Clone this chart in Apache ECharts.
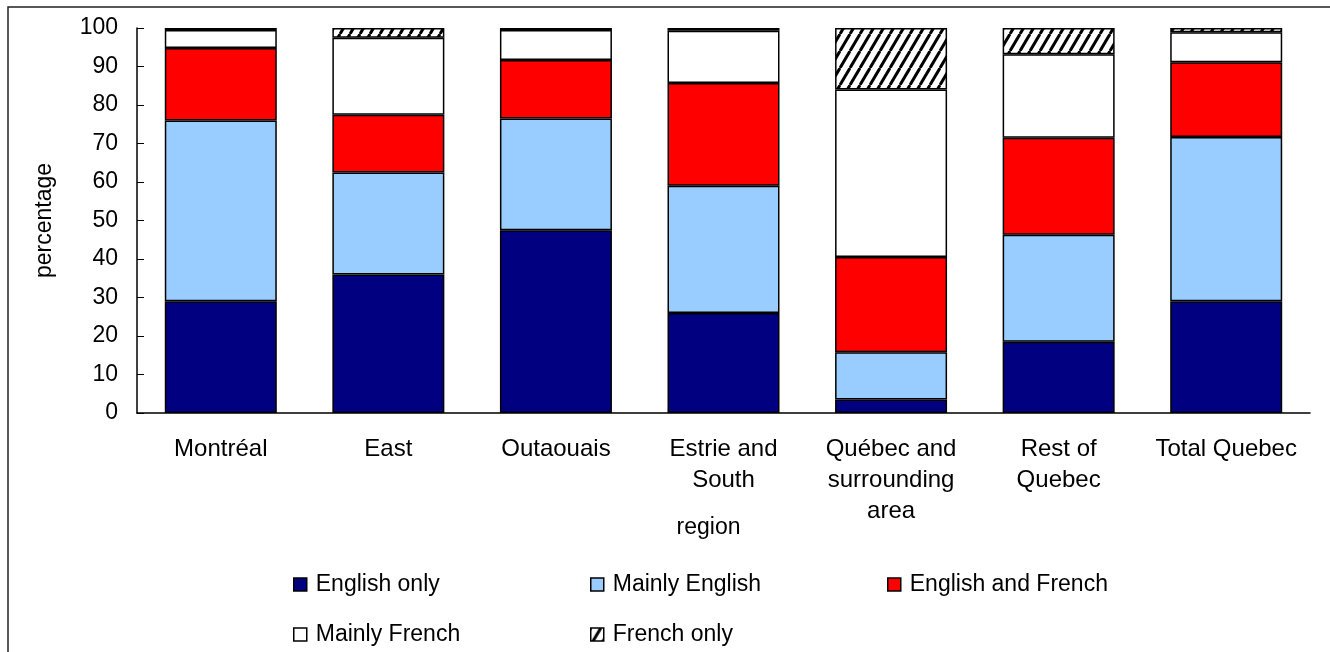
<!DOCTYPE html>
<html>
<head>
<meta charset="utf-8">
<script src="https://cdn.jsdelivr.net/npm/echarts@6/dist/echarts.min.js"></script>
<style>
  html, body { margin: 0; padding: 0; background: #fff; }
  #chart { width: 1330px; height: 652px; }
</style>
</head>
<body>
<div id="chart"></div>
<script>
const regions = ['Montréal', 'East', 'Outaouais', 'Estrie and\nSouth', 'Québec and\nsurrounding\narea', 'Rest of\nQuebec', 'Total Quebec'];
const englishOnly = [29, 36, 47.5, 26, 3.5, 18.5, 29];
const mainlyEnglish = [47, 26.5, 29, 33, 12.3, 27.8, 42.7];
const englishAndFrench = [18.8, 15, 15.2, 26.7, 24.7, 25.2, 19.4];
const mainlyFrench = [4.7, 20, 7.8, 13.6, 43.5, 21.7, 7.8];
const frenchOnly = [0.5, 2.5, 0.5, 0.7, 16, 6.8, 1.1];

const FONT = "'Liberation Sans', Arial, sans-serif";

// diagonal hatch for "French only"
function makeHatch() {
  const w = 10, h = 17;
  const c = document.createElement('canvas');
  c.width = w; c.height = h;
  const ctx = c.getContext('2d');
  ctx.fillStyle = '#fff';
  ctx.fillRect(0, 0, w, h);
  ctx.strokeStyle = '#000';
  ctx.lineWidth = 3;
  [-w, 0, w].forEach((x0) => {
    ctx.beginPath();
    ctx.moveTo(x0, h);
    ctx.lineTo(x0 + w, 0);
    ctx.stroke();
  });
  return c;
}

const chart = echarts.init(document.getElementById('chart'));

function bar(name, data, color) {
  return {
    name: name,
    type: 'bar',
    stack: 'total',
    data: data,
    barWidth: 112,
    itemStyle: { color: color, borderColor: '#000', borderWidth: 1.5 },
    emphasis: { disabled: true },
  };
}

function legendItem(name, left, top) {
  return {
    data: [name],
    left: left,
    top: top,
    padding: 0,
    icon: 'rect',
    itemWidth: 13,
    itemHeight: 13,
    itemGap: 4,
    selectedMode: false,
    itemStyle: { borderColor: '#000', borderWidth: 1.5 },
    textStyle: { fontFamily: FONT, fontSize: 23, color: '#000', padding: [0, 0, 0, 4] },
  };
}

chart.setOption({
  animation: false,
  backgroundColor: '#fff',
  graphic: [{
    type: 'rect',
    shape: { x: 8, y: 7, width: 1340, height: 670 },
    style: { fill: 'none', stroke: '#222', lineWidth: 1.5 },
    silent: true,
  }],
  grid: { left: 137, right: 20, top: 28, bottom: 239 },
  legend: [
    legendItem('English only', 293, 573),
    legendItem('Mainly English', 590, 573),
    legendItem('English and French', 887, 573),
    legendItem('Mainly French', 293, 623),
    legendItem('French only', 590, 623),
  ],
  xAxis: {
    type: 'category',
    data: regions,
    name: 'region',
    nameLocation: 'middle',
    nameGap: 103,
    nameMoveOverlap: false,
    nameTextStyle: { fontFamily: FONT, fontSize: 23, color: '#000', padding: [0, 30, 0, 0] },
    axisLine: { lineStyle: { color: '#000', width: 1.5 } },
    axisTick: { show: false },
    axisLabel: {
      interval: 0,
      margin: 21,
      fontFamily: FONT,
      fontSize: 24,
      color: '#000',
      lineHeight: 31,
    },
  },
  yAxis: {
    type: 'value',
    min: 0,
    max: 100,
    interval: 10,
    name: 'percentage',
    nameLocation: 'middle',
    nameGap: 81,
    nameMoveOverlap: false,
    nameTextStyle: { fontFamily: FONT, fontSize: 23, color: '#000' },
    axisLine: { show: true, lineStyle: { color: '#000', width: 1.5 } },
    axisTick: { show: true, inside: true, length: 7, lineStyle: { color: '#000' } },
    splitLine: { show: false },
    axisLabel: { margin: 19, fontFamily: FONT, fontSize: 23, color: '#000' },
  },
  series: [
    bar('English only', englishOnly, '#000080'),
    bar('Mainly English', mainlyEnglish, '#99ccff'),
    bar('English and French', englishAndFrench, '#ff0000'),
    bar('Mainly French', mainlyFrench, '#ffffff'),
    bar('French only', frenchOnly, { image: makeHatch(), repeat: 'repeat' }),
  ],
});
</script>
</body>
</html>
